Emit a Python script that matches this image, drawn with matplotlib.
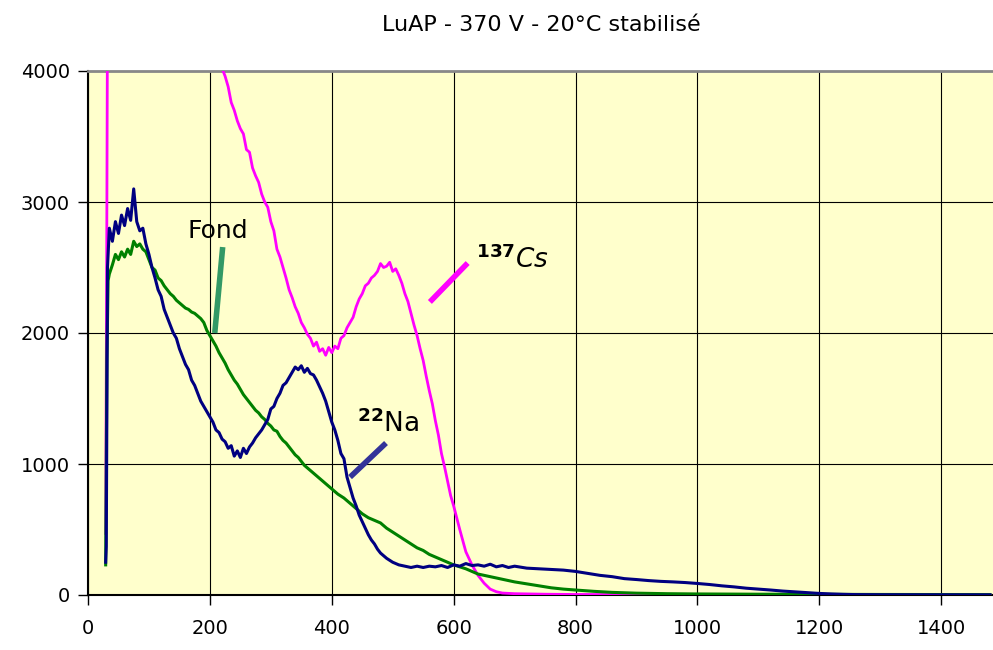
import matplotlib
matplotlib.use('Agg')
import matplotlib.pyplot as plt

# spectra (channel, counts)
cs_x = [29, 31, 33, 60, 120, 180, 215,
        220, 225, 230, 235, 240, 245, 250, 255, 260, 265, 270, 275, 280, 285,
        290, 295, 300, 305, 310, 315, 320, 325, 330, 335, 340, 345, 350, 355,
        360, 365, 370, 375, 380, 385, 390, 395, 400, 405, 410, 415, 420, 425,
        430, 435, 440, 445, 450, 455, 460, 465, 470, 475, 480, 485, 490, 495,
        500, 505, 510, 515, 520, 525, 530, 535, 540, 545, 550, 555, 560, 565,
        570, 575, 580, 585, 590, 595, 600, 610, 620, 630, 640, 650, 660, 670,
        680, 700, 750, 800, 900, 1000, 1200, 1480]
cs_y = [470, 3000, 6000, 9000, 8000, 5500, 4300,
        4020, 3960, 3880, 3760, 3700, 3620, 3560, 3520, 3400, 3380, 3260, 3200, 3150, 3060,
        3000, 2960, 2850, 2780, 2640, 2580, 2500, 2420, 2330, 2270, 2200, 2150, 2080, 2040,
        1990, 1960, 1900, 1930, 1860, 1880, 1830, 1890, 1850, 1900, 1880, 1960, 1980, 2040,
        2080, 2120, 2200, 2260, 2300, 2360, 2380, 2420, 2440, 2470, 2530, 2500, 2510, 2540,
        2470, 2490, 2440, 2380, 2300, 2240, 2150, 2060, 1980, 1880, 1790, 1670, 1560, 1460,
        1330, 1220, 1080, 980, 870, 760, 680, 500, 330, 230, 150, 90, 45, 25,
        15, 10, 6, 4, 3, 3, 2, 2]

na_x = [29, 30, 32, 35, 40, 45, 50, 55, 60, 65, 70, 75, 80, 85, 90, 95, 100,
        105, 110, 115, 120, 125, 130, 135, 140, 145, 150, 155, 160, 165, 170,
        175, 180, 185, 190, 195, 200, 205, 210, 215, 220, 225, 230, 235, 240,
        245, 250, 255, 260, 265, 270, 275, 280, 285, 290, 295, 300, 305, 310,
        315, 320, 325, 330, 335, 340, 345, 350, 355, 360, 365, 370, 375, 380,
        385, 390, 395, 400, 405, 410, 415, 420, 425, 430, 435, 440, 445, 450,
        455, 460, 465, 470, 475, 480, 485, 490, 500, 510, 520, 530, 540, 550,
        560, 570, 580, 590, 600, 610, 620, 630, 640, 650, 660, 670, 680, 690,
        700, 720, 740, 760, 780, 800, 820, 840, 860, 880, 900, 920, 940, 960,
        980, 1000, 1020, 1040, 1060, 1080, 1100, 1120, 1140, 1160, 1180, 1200,
        1220, 1240, 1260, 1300, 1400, 1480]
na_y = [250, 370, 2500, 2800, 2700, 2850, 2760, 2900, 2820, 2950, 2860, 3100, 2850, 2780, 2800, 2680, 2600,
        2500, 2420, 2330, 2280, 2180, 2120, 2060, 2000, 1960, 1880, 1820, 1760, 1720, 1640,
        1600, 1540, 1480, 1440, 1400, 1360, 1320, 1260, 1240, 1190, 1170, 1120, 1140, 1060,
        1100, 1050, 1120, 1080, 1130, 1160, 1200, 1230, 1260, 1300, 1340, 1420, 1440, 1500,
        1540, 1600, 1620, 1660, 1700, 1740, 1720, 1750, 1700, 1730, 1690, 1680, 1640, 1590,
        1540, 1480, 1400, 1320, 1260, 1180, 1080, 1040, 900, 820, 740, 680, 610, 560,
        510, 460, 420, 390, 350, 320, 300, 280, 250, 230, 220, 210, 220, 210,
        220, 215, 225, 210, 230, 220, 240, 225, 230, 220, 235, 215, 225, 210,
        220, 205, 200, 195, 190, 180, 165, 150, 140, 125, 118, 110, 104, 100,
        95, 88, 80, 70, 62, 52, 45, 38, 30, 24, 18, 12,
        8, 5, 3, 2, 1, 1]

fond_x = [29, 31, 33, 35, 40, 45, 50, 55, 60, 65, 70, 75, 80, 85, 90, 95, 100,
          105, 110, 115, 120, 125, 130, 135, 140, 145, 150, 155, 160, 165, 170,
          175, 180, 185, 190, 195, 200, 205, 210, 215, 220, 225, 230, 235, 240,
          245, 250, 255, 260, 265, 270, 275, 280, 285, 290, 295, 300, 305, 310,
          315, 320, 325, 330, 335, 340, 345, 350, 355, 360, 365, 370, 375, 380,
          385, 390, 395, 400, 410, 420, 430, 440, 450, 460, 470, 480, 490, 500,
          510, 520, 530, 540, 550, 560, 570, 580, 590, 600, 620, 640, 660, 680,
          700, 720, 740, 760, 780, 800, 830, 860, 900, 950, 1000, 1100, 1200,
          1300, 1480]
fond_y = [230, 1800, 2400, 2450, 2520, 2600, 2560, 2620, 2580, 2640, 2600, 2700, 2660, 2680, 2640, 2620, 2560,
          2500, 2480, 2420, 2400, 2360, 2330, 2300, 2280, 2250, 2230, 2210, 2190, 2180, 2160,
          2150, 2130, 2110, 2080, 2020, 1980, 1940, 1900, 1850, 1810, 1770, 1720, 1680, 1640,
          1610, 1570, 1530, 1500, 1470, 1440, 1410, 1390, 1360, 1340, 1310, 1290, 1260, 1250,
          1210, 1180, 1160, 1130, 1100, 1070, 1050, 1020, 990, 970, 950, 930, 910, 890,
          870, 850, 830, 810, 770, 740, 700, 660, 620, 590, 570, 550, 510, 480,
          450, 420, 390, 360, 340, 310, 290, 270, 250, 230, 200, 160, 140, 120,
          100, 85, 70, 55, 45, 38, 28, 20, 14, 10, 8, 6, 5,
          4, 3]

xticks = [0, 200, 400, 600, 800, 1000, 1200, 1400]
yticks = [0, 1000, 2000, 3000, 4000]

plt.rcParams['font.family'] = ['DejaVu Sans']
plt.rcParams['mathtext.fontset'] = 'dejavusans'

fig = plt.figure(figsize=(9.93, 6.5), dpi=100)
ax = fig.add_axes([88 / 993, 1 - 595 / 650, 1 - 88 / 993, (595 - 71) / 650])
ax.set_facecolor('#FFFFCC')

ax.plot(cs_x, cs_y, color='#FF00FF', lw=2, zorder=3)
ax.plot(fond_x, fond_y, color='#008000', lw=2.2, zorder=3)
ax.plot(na_x, na_y, color='#000080', lw=2.2, zorder=4)

ax.set_xlim(0, 1485)
ax.set_ylim(0, 4000)
ax.set_xticks(xticks)
ax.set_yticks(yticks)
ax.grid(True, color='black', lw=0.8)
ax.set_axisbelow(True)
ax.tick_params(direction='out', length=7, width=1, labelsize=14, pad=6)
ax.tick_params(axis='x', pad=10)

ax.spines['right'].set_visible(False)
ax.spines['top'].set_color('#888888')
ax.spines['top'].set_linewidth(2)
ax.spines['left'].set_linewidth(1.5)
ax.spines['bottom'].set_linewidth(1.5)

# labels with pointer lines
ax.plot([221, 208], [2656, 2000], color='#339966', lw=4, solid_capstyle='butt', zorder=5)
ax.text(164, 2725, 'Fond', fontsize=18, va='baseline', zorder=6)

ax.plot([561, 623], [2237, 2534], color='#FF00FF', lw=4, solid_capstyle='butt', zorder=5)
ax.text(636, 2500, r'$^{\mathbf{137}}\mathit{Cs}$', fontsize=19, va='baseline', zorder=6)

ax.plot([430, 489], [900, 1160], color='#333399', lw=4, solid_capstyle='butt', zorder=5)
ax.text(441, 1244, r'$^{\mathbf{22}}\mathrm{Na}$', fontsize=19, va='baseline', zorder=6)

fig.text(0.545, 1 - 25 / 650, 'LuAP - 370 V - 20°C stabilisé', fontsize=16,
         ha='center', va='center')

fig.savefig('out.png', dpi=100)
